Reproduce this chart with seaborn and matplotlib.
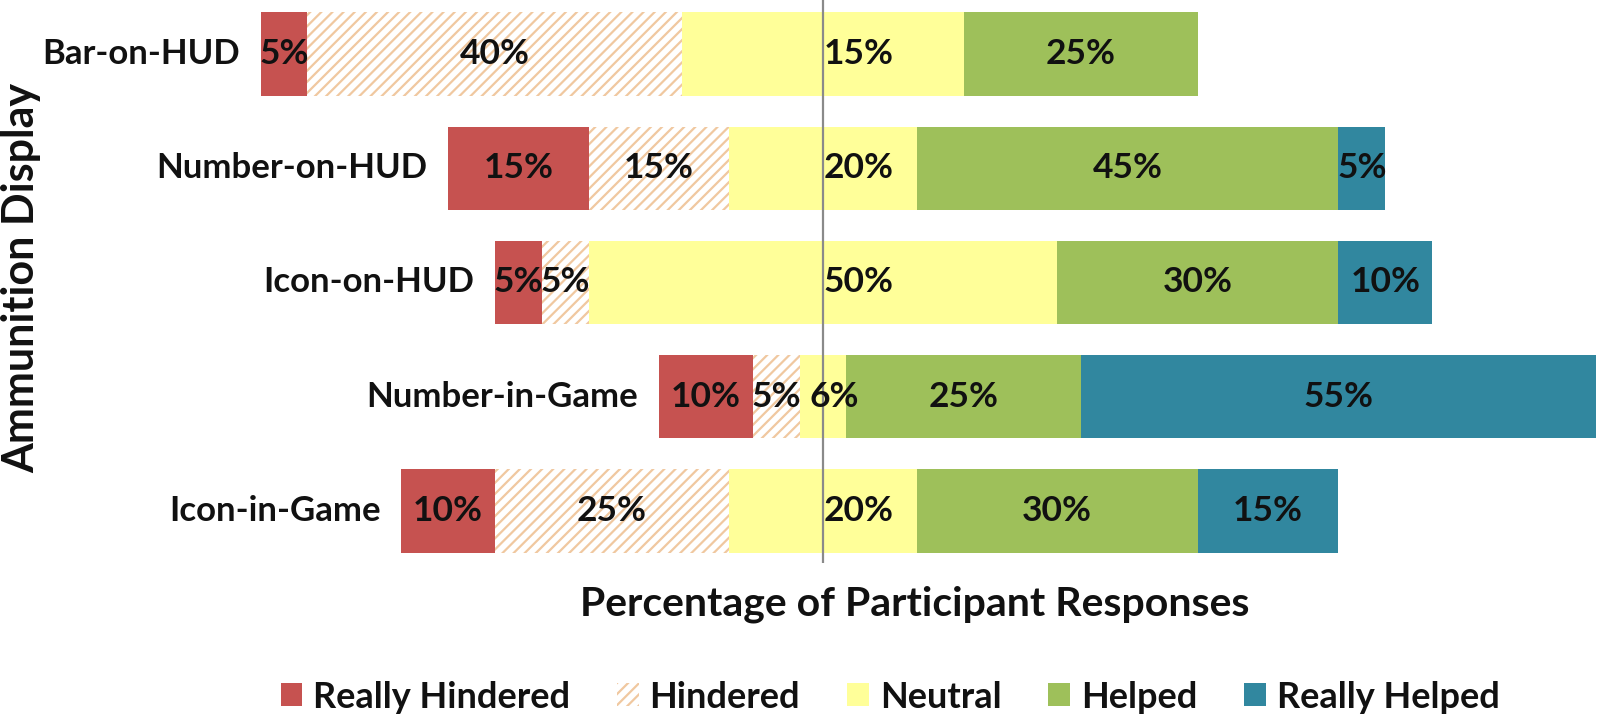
import numpy as np
import seaborn as sns
from matplotlib import pyplot as plt
from matplotlib.patches import Patch

# data (percent of participant responses)
categories = ["Bar-on-HUD", "Number-on-HUD", "Icon-on-HUD", "Number-in-Game", "Icon-in-Game"]
really_hindered = [5, 15, 5, 10, 10]
hindered = [40, 15, 5, 5, 25]
neutral = [30, 20, 50, 5, 20]
helped = [25, 45, 30, 25, 30]
really_helped = [0, 5, 10, 55, 15]

# labels as printed on the bars
rh_labels = ["5%", "15%", "5%", "10%", "10%"]
h_labels = ["40%", "15%", "5%", "5%", "25%"]
n_labels = ["15%", "20%", "50%", "6%", "20%"]
hp_labels = ["25%", "45%", "30%", "25%", "30%"]
rhp_labels = ["", "5%", "10%", "55%", "15%"]

series_names = ["Really Hindered", "Hindered", "Neutral", "Helped", "Really Helped"]
colors = ["#C65250", "white", "#FFFF99", "#9EC05A", "#31879F"]
hatch_color = "#F0C8A0"

sns.set_style("white")
plt.rcParams['font.family'] = ['Lato', 'DejaVu Sans']
plt.rcParams['hatch.linewidth'] = 1.6

rh = np.array(really_hindered, dtype=float)
h = np.array(hindered, dtype=float)
n = np.array(neutral, dtype=float)
hp = np.array(helped, dtype=float)
rhp = np.array(really_helped, dtype=float)

fig = plt.figure(figsize=(16, 7.18), dpi=100)
ax = fig.add_axes([0, 0.216, 1, 0.784])

W = 0.73
bar_kw = dict(orient="h", width=W, linewidth=0, saturation=1, ax=ax)
# left side, drawn from outermost to innermost so inner bars sit on top
sns.barplot(x=-(n / 2 + h + rh), y=categories, color=colors[0], **bar_kw)
sns.barplot(x=-(n / 2 + h), y=categories, color="white",
            edgecolor=hatch_color, hatch="///", **bar_kw)
sns.barplot(x=-(n / 2), y=categories, color=colors[2], **bar_kw)
# right side
sns.barplot(x=n / 2 + hp + rhp, y=categories, color=colors[4], **bar_kw)
sns.barplot(x=n / 2 + hp, y=categories, color=colors[3], **bar_kw)
sns.barplot(x=n / 2, y=categories, color=colors[2], **bar_kw)

ax.axvline(0, color="#8a8a8a", lw=1.6, zorder=5)

fs = 25
pfs = 25.5
txt = dict(fontweight="bold", color="#111111", va="center", zorder=6)
for i in range(len(categories)):
    ax.text(-(n[i] / 2 + h[i] + rh[i] / 2), i, rh_labels[i], ha="center", fontsize=pfs, **txt)
    ax.text(-(n[i] / 2 + h[i] / 2), i, h_labels[i], ha="center", fontsize=pfs, **txt)
    # neutral label sits at the base of the right half (centred if it won't fit)
    if n[i] / 2 < 5:
        ax.text(n[i] / 4, i, n_labels[i], ha="center", fontsize=pfs, **txt)
    else:
        ax.text(0.1, i, n_labels[i], ha="left", fontsize=pfs, **txt)
    ax.text(n[i] / 2 + hp[i] / 2, i, hp_labels[i], ha="center", fontsize=pfs, **txt)
    if rhp_labels[i]:
        ax.text(n[i] / 2 + hp[i] + rhp[i] / 2, i, rhp_labels[i], ha="center", fontsize=pfs, **txt)
    # category name just left of each bar
    ax.text(-(n[i] / 2 + h[i] + rh[i]) - 2.2, i, categories[i], ha="right", fontsize=fs, **txt)

ax.set_xlim(-87.8, 82.9)
ax.set_ylim(4.455, -0.473)
ax.set_xlabel("")
ax.set_ylabel("")
ax.set_xticks([])
ax.set_yticks([])
sns.despine(ax=ax, left=True, bottom=True)

fig.text(1 / 1600, 1 - 278 / 718, "Ammunition Display", rotation=90,
         ha="left", va="center", fontsize=31, fontweight="bold", color="#111111")
fig.text(915 / 1600, 1 - 604 / 718, "Percentage of Participant Responses",
         ha="center", va="center", fontsize=29.5, fontweight="bold", color="#111111")

handles = []
for name, c in zip(series_names, colors):
    if name == "Hindered":
        handles.append(Patch(facecolor="white", edgecolor=hatch_color, linewidth=0,
                             hatch="///", label=name))
    else:
        handles.append(Patch(facecolor=c, linewidth=0, label=name))
leg = fig.legend(handles=handles, ncol=5, loc="center",
                 bbox_to_anchor=(890 / 1600, 1 - 697 / 718), frameon=False,
                 prop={"size": 26, "weight": "bold"}, handlelength=0.6,
                 handleheight=0.6, handletextpad=0.3, columnspacing=1.3)
for t in leg.get_texts():
    t.set_color("#111111")

fig.savefig("out.png", dpi=100)
